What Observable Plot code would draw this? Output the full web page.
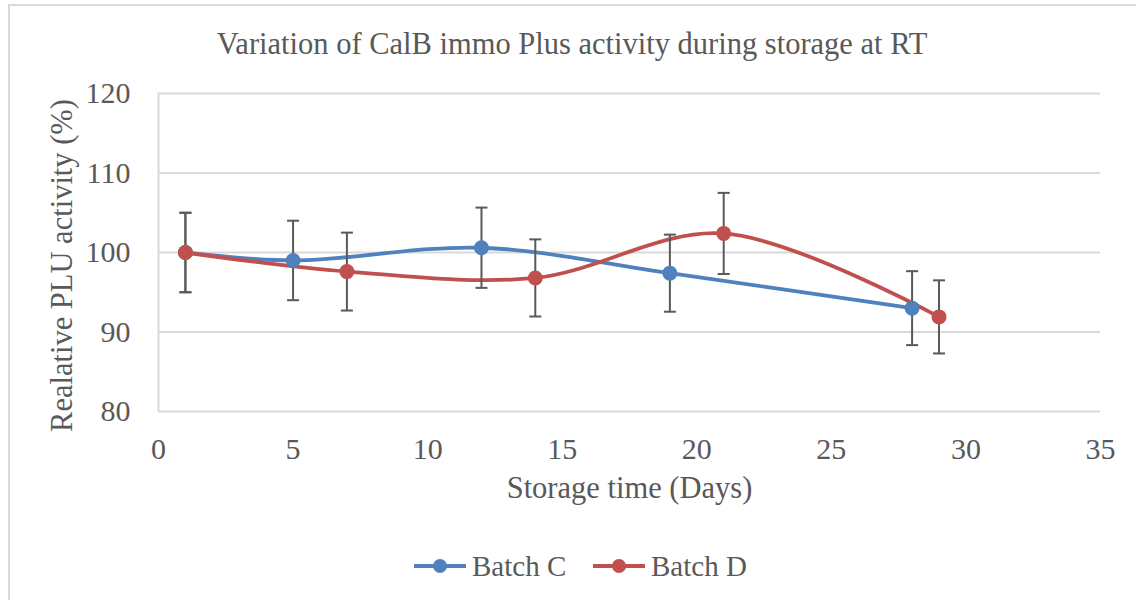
<!DOCTYPE html>
<html>
<head>
<meta charset="utf-8">
<script src="https://cdn.jsdelivr.net/npm/d3@7"></script>
<script src="https://cdn.jsdelivr.net/npm/@observablehq/plot@0.6"></script>
<style>
  html, body { margin: 0; padding: 0; background: #fff; }
  #wrap { position: relative; width: 1136px; height: 600px; overflow: hidden; font-family: "Liberation Serif", "DejaVu Serif", serif; color: #595959; }
  #frame { position: absolute; left: 8px; top: 4px; width: 1200px; height: 700px; border: 2px solid #d9d9d9; box-sizing: border-box; }
  #title { position: absolute; left: 8px; width: 1128px; top: 29px; text-align: center; font-size: 30.5px; line-height: 30px; white-space: nowrap; }
  #chart { position: absolute; left: 0; top: 70px; }
  #legend { position: absolute; left: 0; top: 548px; width: 1136px; height: 36px; }
  .item { position: absolute; top: 0; display: flex; align-items: center; height: 36px; font-size: 29px; white-space: nowrap; }
  .item svg { margin-right: 5px; }
</style>
</head>
<body>
<div id="wrap">
  <div id="frame"></div>
  <div id="title"></div>
  <div id="chart"></div>
  <div id="legend"></div>
</div>
<script>
const titleText = "Variation of CalB immo Plus activity during storage at RT";
const xLabel = "Storage time (Days)";
const yLabel = "Realative PLU activity (%)";
const seriesNames = ["Batch C", "Batch D"];
const seriesColors = ["#4f81bd", "#c0504d"];

const daysC = [1, 5, 12, 19, 28];
const valuesC = [100, 99, 100.6, 97.4, 93];
const errorsC = [5, 5, 5.05, 4.85, 4.65];

const daysD = [1, 7, 14, 21, 29];
const valuesD = [100, 97.6, 96.8, 102.4, 91.9];
const errorsD = [5, 4.9, 4.85, 5.1, 4.6];

const xTicks = [0, 5, 10, 15, 20, 25, 30, 35];
const yTicks = [80, 90, 100, 110, 120];

const rows = [
  ...daysC.map((d, i) => ({series: seriesNames[0], day: d, value: valuesC[i], err: errorsC[i]})),
  ...daysD.map((d, i) => ({series: seriesNames[1], day: d, value: valuesD[i], err: errorsD[i]}))
];

const capSymbol = {
  draw(context, size) {
    const r = Math.sqrt(size / Math.PI);
    context.moveTo(-r, 0);
    context.lineTo(r, 0);
  }
};

const caps = rows.flatMap(d => [
  {series: d.series, day: d.day, v: d.value + d.err},
  {series: d.series, day: d.day, v: d.value - d.err}
]);

document.getElementById("title").textContent = titleText;

const textColor = "#595959";
const chart = Plot.plot({
  width: 1136,
  height: 450,
  marginLeft: 158,
  marginRight: 36,
  marginTop: 23,
  marginBottom: 109,
  style: {fontFamily: "'Liberation Serif', 'DejaVu Serif', serif", background: "transparent", overflow: "visible"},
  x: {domain: [0, 35]},
  y: {domain: [80, 120]},
  color: {domain: seriesNames, range: seriesColors},
  marks: [
    Plot.gridY(yTicks, {stroke: "#d9d9d9", strokeOpacity: 1, strokeWidth: 2}),
    Plot.ruleX([0], {stroke: "#d9d9d9", strokeWidth: 2}),
    Plot.axisX({ticks: xTicks, tickSize: 0, tickPadding: 26, fontSize: 30, fill: textColor, label: null}),
    Plot.axisY({ticks: yTicks, tickSize: 0, tickPadding: 28, fontSize: 30, fill: textColor, label: null}),
    Plot.text([xLabel], {frameAnchor: "bottom", dy: 86, fontSize: 30.5, fill: textColor}),
    Plot.text([yLabel], {frameAnchor: "left", textAnchor: "middle", dx: -96, dy: 13, rotate: -90, fontSize: 30.5, fill: textColor}),
    Plot.line(rows, {x: "day", y: "value", z: "series", stroke: "series", strokeWidth: 3.8, curve: "catmull-rom"}),
    Plot.ruleX(rows, {x: "day", y1: d => d.value - d.err, y2: d => d.value + d.err, stroke: "#595959", strokeWidth: 2}),
    Plot.dot(caps, {x: "day", y: "v", symbol: capSymbol, r: 6, stroke: "#595959", strokeWidth: 2, fill: "none"}),
    Plot.dot(rows, {x: "day", y: "value", fill: "series", r: 7.5, stroke: "none"})
  ]
});
document.getElementById("chart").appendChild(chart);

// legend
const legend = document.getElementById("legend");
const lefts = [413, 592];
seriesNames.forEach((name, i) => {
  const item = document.createElement("div");
  item.className = "item";
  item.style.left = lefts[i] + "px";
  const ns = "http://www.w3.org/2000/svg";
  const s = document.createElementNS(ns, "svg");
  s.setAttribute("width", 54);
  s.setAttribute("height", 20);
  const l = document.createElementNS(ns, "line");
  l.setAttribute("x1", 1); l.setAttribute("x2", 53); l.setAttribute("y1", 10); l.setAttribute("y2", 10);
  l.setAttribute("stroke", seriesColors[i]); l.setAttribute("stroke-width", 3.8);
  const c = document.createElementNS(ns, "circle");
  c.setAttribute("cx", 27); c.setAttribute("cy", 10); c.setAttribute("r", 7); c.setAttribute("fill", seriesColors[i]);
  s.appendChild(l); s.appendChild(c);
  const t = document.createElement("span");
  t.textContent = name;
  item.appendChild(s); item.appendChild(t);
  legend.appendChild(item);
});
</script>
</body>
</html>
